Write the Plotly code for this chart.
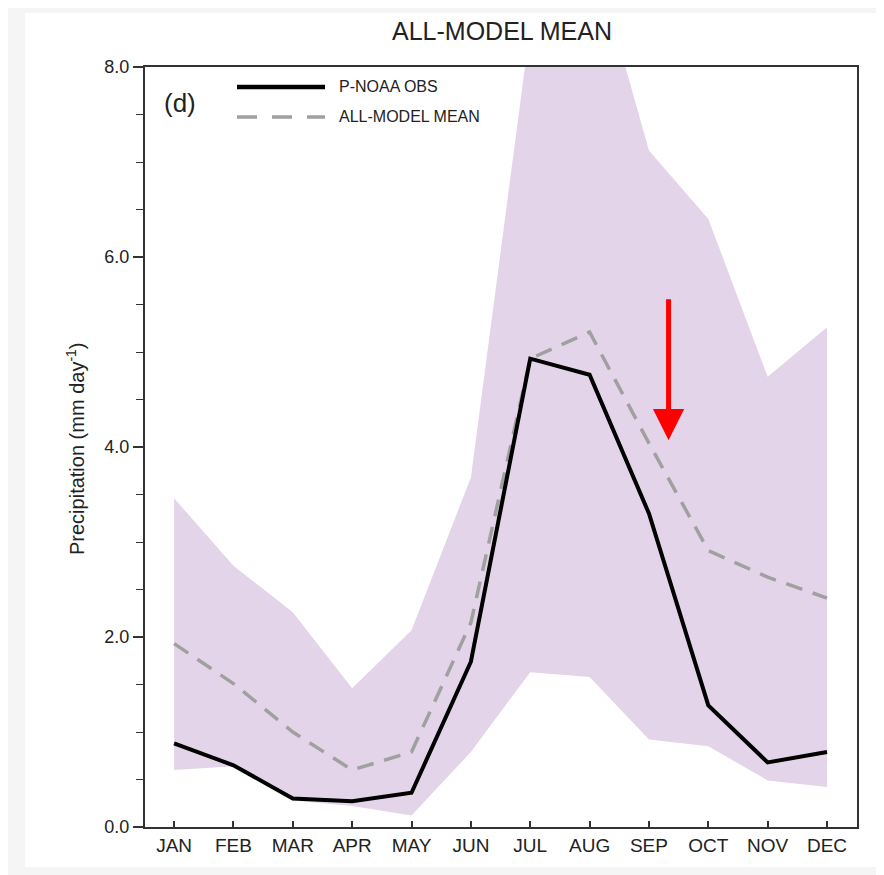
import plotly.graph_objects as go

months = ["JAN", "FEB", "MAR", "APR", "MAY", "JUN", "JUL", "AUG", "SEP", "OCT", "NOV", "DEC"]
obs = [0.88, 0.65, 0.30, 0.27, 0.36, 1.74, 4.93, 4.76, 3.30, 1.28, 0.68, 0.79]
model_mean = [1.93, 1.51, 1.00, 0.60, 0.79, 2.15, 4.93, 5.21, 4.04, 2.91, 2.63, 2.41]
band_upper = [3.46, 2.75, 2.26, 1.46, 2.07, 3.68, 8.42, 9.34, 7.12, 6.40, 4.74, 5.26]
band_lower = [0.60, 0.64, 0.28, 0.22, 0.12, 0.79, 1.63, 1.58, 0.92, 0.85, 0.49, 0.42]
y_ticks = [0, 2, 4, 6, 8]
y_ticklabels = ["0.0", "2.0", "4.0", "6.0", "8.0"]

FONT = "Liberation Sans, Arial, Helvetica, sans-serif"
BAND = "#e4d4e9"
AX = "#333333"
DASH = "17px,11px"

fig = go.Figure()
fig.add_trace(go.Scatter(x=months, y=band_lower, mode="lines", line=dict(width=0, color=BAND),
                         showlegend=False, hoverinfo="skip"))
fig.add_trace(go.Scatter(x=months, y=band_upper, mode="lines", line=dict(width=0, color=BAND),
                         fill="tonexty", fillcolor=BAND, showlegend=False, hoverinfo="skip"))
fig.add_trace(go.Scatter(x=months, y=model_mean, mode="lines", name="ALL-MODEL MEAN",
                         line=dict(color="#a0a0a0", width=3.5, dash=DASH), showlegend=False))
fig.add_trace(go.Scatter(x=months, y=obs, mode="lines", name="P-NOAA OBS",
                         line=dict(color="#000000", width=4), showlegend=False))

# page body has an 8px margin: figure is laid out in page coordinates minus 8
OFF = 8
W, H = 876, 867
L, T = 145 - OFF, 67 - OFF
R = W - (857 - OFF)
B = H - (827 - OFF)
pw, ph = W - L - R, H - T - B

def px(x):
    return (x - OFF - L) / pw

def py(y):
    return (H - B - (y - OFF)) / ph

shapes = [
    dict(type="rect", xref="paper", yref="paper", x0=px(25), x1=px(900), y0=py(867), y1=py(13),
         fillcolor="white", line=dict(width=0), layer="below"),
    dict(type="line", xref="paper", yref="paper", x0=px(237), x1=px(325), y0=py(87), y1=py(87),
         line=dict(color="black", width=4.5)),
    dict(type="line", xref="paper", yref="paper", x0=px(237), x1=px(325), y0=py(117), y1=py(117),
         line=dict(color="#a0a0a0", width=3.5, dash="20px,15px")),
]

annotations = [
    dict(text="ALL-MODEL MEAN", xref="paper", yref="paper", x=px(502), y=py(31), showarrow=False,
         xanchor="center", yanchor="middle", font=dict(family=FONT, size=25, color="#222")),
    dict(text="P-NOAA OBS", xref="paper", yref="paper", x=px(337), y=py(87), showarrow=False,
         xanchor="left", yanchor="middle", font=dict(family=FONT, size=16, color="#222")),
    dict(text="ALL-MODEL MEAN", xref="paper", yref="paper", x=px(337), y=py(117), showarrow=False,
         xanchor="left", yanchor="middle", font=dict(family=FONT, size=16, color="#222")),
    dict(text="(d)", xref="paper", yref="paper", x=px(180), y=py(103), showarrow=False,
         xanchor="center", yanchor="middle", font=dict(family=FONT, size=26, color="#222")),
    dict(text="Precipitation (mm day<sup>-1</sup>)", xref="paper", yref="paper", x=px(75), y=py(449),
         showarrow=False, textangle=-90, xanchor="center", yanchor="middle",
         font=dict(family=FONT, size=20, color="#222")),
    dict(x=8.33, y=4.07, ax=8.33, ay=5.57, xref="x", yref="y", axref="x", ayref="y",
         showarrow=True, arrowhead=2, arrowsize=1.25, arrowwidth=5, arrowcolor="#ff0000",
         standoff=0, startstandoff=0, text=""),
]

fig.update_layout(
    width=W, height=H,
    margin=dict(l=L, r=R, t=T, b=B),
    paper_bgcolor="#f5f5f5",
    plot_bgcolor="white",
    shapes=shapes,
    annotations=annotations,
    showlegend=False,
    font=dict(family=FONT, color="#222"),
)
fig.update_xaxes(
    type="category", range=[-0.49, 11.505], showgrid=False, zeroline=False,
    showline=True, linecolor=AX, linewidth=2, mirror=True,
    ticks="inside", ticklen=6, tickwidth=1.5, tickcolor=AX,
    tickfont=dict(family=FONT, size=19, color="#222"),
)
fig.update_yaxes(
    range=[0, 8], showgrid=False, zeroline=False,
    showline=True, linecolor=AX, linewidth=2, mirror=True,
    tickmode="array", tickvals=y_ticks, ticktext=y_ticklabels,
    ticks="outside", ticklen=10, tickwidth=1.5, tickcolor=AX,
    minor=dict(dtick=0.5, ticks="outside", ticklen=7, tickwidth=1.2, tickcolor=AX, showgrid=False),
    tickfont=dict(family=FONT, size=18, color="#222"),
)

fig.write_html("out.html")
